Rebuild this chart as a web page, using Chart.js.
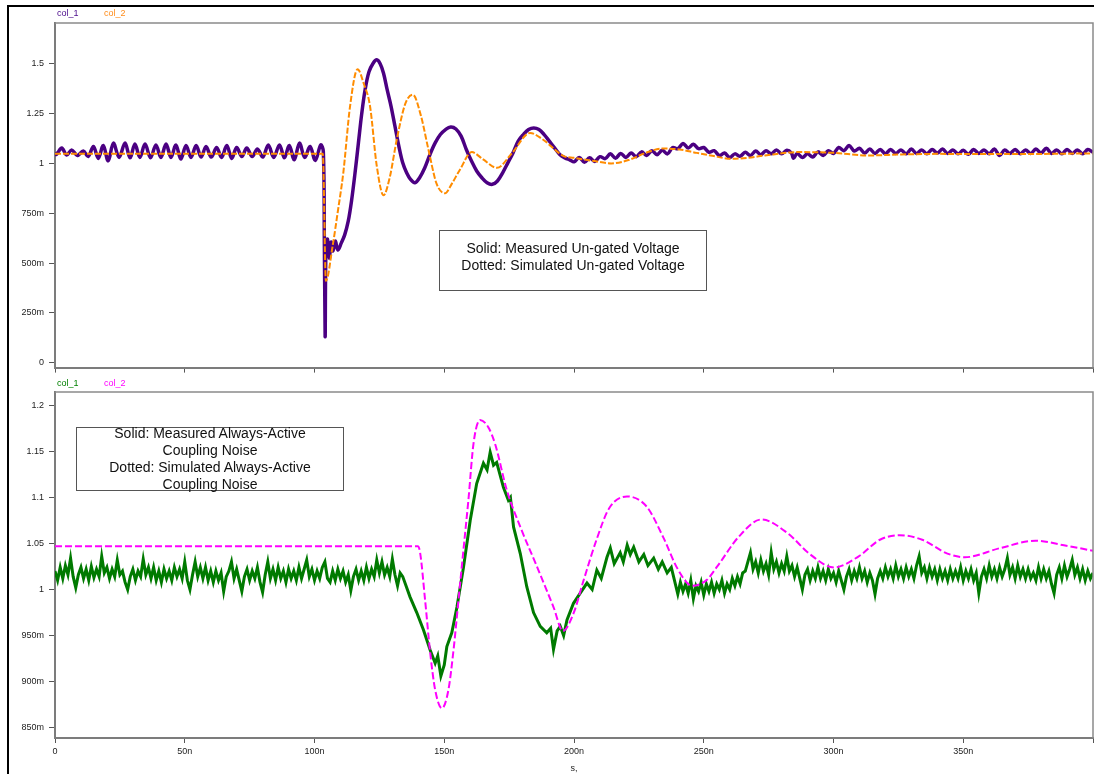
<!DOCTYPE html>
<html>
<head>
<meta charset="utf-8">
<title>Un-gated voltage and coupling noise</title>
<script src="https://cdn.jsdelivr.net/npm/chart.js@4.4.0/dist/chart.umd.min.js"></script>
<style>
  html, body { margin: 0; padding: 0; background: #fff; }
  body { width: 1094px; height: 774px; position: relative; overflow: hidden;
         font-family: "Liberation Sans", Arial, sans-serif; }
  .frame { position: absolute; left: 7px; top: 5px; right: -5px; bottom: -5px;
           border-top: 2px solid #000; border-left: 2px solid #000; }
  canvas { position: absolute; left: 0; }
  #top-chart { top: 0; }
  #bottom-chart { top: 378px; }
  .legend { position: absolute; font-size: 9px; line-height: 10px; white-space: nowrap; }
  .note { position: absolute; border: 1px solid #555; font-size: 14px; line-height: 17px;
          text-align: center; color: #111; box-sizing: border-box; }
</style>
</head>
<body>
<div class="frame"></div>
<canvas id="top-chart" width="1094" height="378"></canvas>
<canvas id="bottom-chart" width="1094" height="396"></canvas>

<div class="legend" style="left:57px; top:8px; color:#4b0b8c">col_1</div>
<div class="legend" style="left:104px; top:8px; color:#ff8c1a">col_2</div>
<div class="legend" style="left:57px; top:378px; color:#008000">col_1</div>
<div class="legend" style="left:104px; top:378px; color:#ff00ff">col_2</div>

<div class="note" style="left:439px; top:230px; width:268px; height:61px; padding-top:9px">
  Solid: Measured Un-gated Voltage<br>Dotted: Simulated Un-gated Voltage
</div>
<div class="note" style="left:76px; top:427px; width:268px; height:64px; padding-top:0">
  <div style="margin-top:-3px">Solid: Measured Always-Active<br>Coupling Noise<br>Dotted: Simulated Always-Active<br>Coupling Noise</div>
</div>

<script>
'use strict';

// ── Axis ticks ────────────────────────────────────────────────────────────────

const X_TICKS = [0, 50, 100, 150, 200, 250, 300, 350, 400];
const X_TICK_LABELS = ['0', '50n', '100n', '150n', '200n', '250n', '300n', '350n', ''];

const TOP_Y_TICKS = [0, 0.25, 0.5, 0.75, 1, 1.25, 1.5];
const TOP_Y_LABELS = ['0', '250m', '500m', '750m', '1', '1.25', '1.5'];

const BOT_Y_TICKS = [0.85, 0.9, 0.95, 1, 1.05, 1.1, 1.15, 1.2];
const BOT_Y_LABELS = ['850m', '900m', '950m', '1', '1.05', '1.1', '1.15', '1.2'];

// ── Series: [time ns, volts] ─────────────────────

const measuredUngated = [
  [0, 1.055], [0.5, 1.045], [2.6, 1.077], [4.5, 1.042], [6.4, 1.068], [8.6, 1.040],
  [10.9, 1.062], [12.8, 1.035], [14.8, 1.085], [16.7, 1.025], [18.6, 1.090], [20.5, 1.013],
  [22.5, 1.102], [24.7, 1.030], [27.0, 1.102], [28.9, 1.028], [30.8, 1.097], [32.7, 1.030],
  [34.7, 1.097], [36.8, 1.028], [38.9, 1.093], [40.8, 1.030], [42.8, 1.097], [44.7, 1.030],
  [46.6, 1.093], [48.5, 1.022], [50.5, 1.090], [52.4, 1.030], [54.4, 1.090], [56.3, 1.032],
  [58.2, 1.085], [60.2, 1.032], [62.3, 1.080], [64.2, 1.030], [66.2, 1.090], [68.1, 1.025],
  [70.0, 1.080], [72.0, 1.035], [73.9, 1.077], [76.0, 1.035], [78.0, 1.073], [80.1, 1.032],
  [82.2, 1.093], [84.3, 1.030], [86.5, 1.093], [88.4, 1.028], [90.3, 1.090], [92.2, 1.018],
  [94.2, 1.102], [96.2, 1.030], [98.3, 1.085], [100.3, 1.015], [102.4, 1.093], [103.4, 1.060],
  [103.8, 0.600], [104.1, 0.130], [104.4, 0.555], [105.0, 0.620], [105.7, 0.525], [106.4, 0.605],
  [107.1, 0.560], [108.0, 0.610], [109.0, 0.565], [110.3, 0.600], [111.6, 0.640], [113.0, 0.710],
  [114.3, 0.815], [115.6, 0.950], [116.9, 1.100], [118.2, 1.250], [119.5, 1.370], [121.0, 1.460],
  [122.6, 1.503], [124.0, 1.520], [125.3, 1.500], [126.6, 1.453], [128.0, 1.370], [129.5, 1.287],
  [131.0, 1.187], [132.5, 1.087], [134.0, 1.003], [135.5, 0.953], [137.0, 0.920], [138.7, 0.903],
  [140.5, 0.928], [142.5, 0.978], [144.5, 1.045], [146.5, 1.103], [148.5, 1.145], [150.5, 1.170],
  [152.5, 1.183], [154.5, 1.173], [156.5, 1.137], [158.5, 1.070], [160.5, 1.012], [162.5, 0.962],
  [164.5, 0.928], [166.5, 0.903], [168.5, 0.895], [170.5, 0.912], [172.5, 0.953], [174.5, 1.003],
  [176.5, 1.053], [178.5, 1.112], [180.5, 1.145], [182.5, 1.170], [184.5, 1.178], [186.5, 1.170],
  [188.5, 1.145], [190.5, 1.112], [192.5, 1.078], [194.5, 1.045], [196.5, 1.028], [198.5, 1.017],
  [200, 1.008], [202, 1.030], [204, 1.006], [206, 1.028], [208, 1.010], [210, 1.034],
  [212, 1.024], [214, 1.048], [216, 1.026], [218, 1.050], [220, 1.030], [222, 1.052],
  [224, 1.034], [226, 1.058], [228, 1.040], [230, 1.064], [232, 1.044], [234, 1.066],
  [236, 1.048], [238, 1.080], [240, 1.074], [242, 1.100], [244, 1.078], [246, 1.096],
  [248, 1.074], [250, 1.080], [252, 1.056], [254, 1.064], [256, 1.040], [258, 1.052],
  [260, 1.030], [262, 1.048], [264, 1.036], [266, 1.056], [268, 1.040], [270, 1.062],
  [272, 1.044], [274, 1.064], [276, 1.048], [278, 1.068], [280, 1.048], [282, 1.066],
  [283.8, 1.052], [284.6, 1.026], [286, 1.050], [288, 1.030], [290, 1.048], [292, 1.032],
  [294, 1.058], [296, 1.040], [298, 1.064], [300, 1.050], [302, 1.080], [304, 1.064],
  [306, 1.090], [308, 1.062], [310, 1.076], [312, 1.052], [314, 1.072], [316, 1.050],
  [318, 1.070], [320, 1.048], [322, 1.070], [324, 1.050], [326, 1.068], [328, 1.048],
  [330, 1.072], [332, 1.050], [334, 1.068], [336, 1.048], [338, 1.070], [340, 1.052],
  [342, 1.072], [344, 1.050], [346, 1.068], [348, 1.048], [350, 1.066], [352, 1.046],
  [354, 1.070], [356, 1.050], [358, 1.068], [360, 1.048], [362, 1.072], [364, 1.040],
  [366, 1.068], [368, 1.050], [370, 1.070], [372, 1.048], [374, 1.068], [376, 1.050],
  [378, 1.072], [380, 1.052], [382, 1.076], [384, 1.050], [386, 1.068], [388, 1.048],
  [390, 1.070], [392, 1.050], [394, 1.068], [396, 1.048], [398, 1.070], [400, 1.056],
];

const simulatedUngated = [
  [0, 1.048], [50, 1.048], [103.2, 1.048], [104.4, 0.410], [107.0, 0.587], [109.0, 0.760],
  [111.1, 0.953], [113.7, 1.287], [116.6, 1.473], [119.0, 1.400], [121.4, 1.287], [124.0, 0.987],
  [126.6, 0.840], [129.0, 0.930], [131.7, 1.120], [135.0, 1.300], [137.9, 1.345], [141.0, 1.240],
  [143.9, 1.070], [147.0, 0.900], [150.3, 0.850], [153.0, 0.900], [156.1, 0.970], [160.6, 1.057],
  [165.0, 1.020], [170.3, 0.978], [176.0, 1.050], [183.1, 1.153], [188.0, 1.120], [196.0, 1.037],
  [200.0, 1.028], [207.8, 1.012], [214.4, 1.000], [221.0, 1.017], [227.6, 1.053], [234.1, 1.075],
  [240.7, 1.070], [247.3, 1.053], [253.9, 1.037], [260.5, 1.023], [267.0, 1.028], [273.6, 1.040],
  [286.8, 1.057], [300.0, 1.053], [313.1, 1.040], [326.3, 1.045], [339.5, 1.048], [365.8, 1.047],
  [400, 1.050],
];

const measuredNoise = [
  [0, 1.020], [1, 1.010], [2, 1.024], [3, 1.012], [4, 1.026], [5, 1.016], [6, 1.034], [7, 1.014],
  [8, 1.002], [9, 1.016], [10, 1.024], [11, 1.012], [12, 1.022], [13, 1.010], [14, 1.025], [15, 1.013],
  [16, 1.022], [17, 1.014], [18, 1.036], [19, 1.018], [20, 1.024], [21, 1.012], [22, 1.022], [23, 1.014],
  [24, 1.032], [25, 1.016], [26, 1.020], [27, 1.008], [28, 1.000], [29, 1.014], [30, 1.022], [31, 1.010],
  [32, 1.020], [33, 1.014], [34, 1.033], [35, 1.016], [36, 1.024], [37, 1.012], [38, 1.024], [39, 1.010],
  [40, 1.020], [41, 1.008], [42, 1.022], [43, 1.012], [44, 1.020], [45, 1.010], [46, 1.024], [47, 1.014],
  [48, 1.022], [49, 1.012], [50, 1.030], [51, 1.010], [52, 1.000], [53, 1.016], [54, 1.030], [55, 1.014],
  [56, 1.024], [57, 1.012], [58, 1.024], [59, 1.010], [60, 1.020], [61, 1.008], [62, 1.020], [63, 1.010],
  [64, 1.018], [65, 0.998], [66, 1.014], [67, 1.020], [68, 1.030], [69, 1.012], [70, 1.022], [71, 1.010],
  [72, 0.998], [73, 1.014], [74, 1.022], [75, 1.010], [76, 1.020], [77, 1.012], [78, 1.024], [79, 1.008],
  [80, 0.997], [81, 1.016], [82, 1.030], [83, 1.012], [84, 1.022], [85, 1.010], [86, 1.024], [87, 1.012],
  [88, 1.020], [89, 1.008], [90, 1.022], [91, 1.012], [92, 1.020], [93, 1.010], [94, 1.024], [95, 1.012],
  [96, 1.022], [97, 1.032], [98, 1.014], [99, 1.022], [100, 1.010], [101, 1.020], [102, 1.012], [103, 1.024],
  [104, 1.030], [105, 1.012], [106, 1.008], [107, 1.020], [108, 1.010], [109, 1.022], [110, 1.012], [111, 1.020],
  [112, 1.008], [113, 1.016], [114, 0.999], [115, 1.014], [116, 1.022], [117, 1.010], [118, 1.020], [119, 1.010],
  [120, 1.024], [121, 1.012], [122, 1.022], [123, 1.014], [124, 1.032], [125, 1.018], [126, 1.030], [127, 1.016],
  [128, 1.024], [129, 1.014], [130, 1.033], [131, 1.016], [132, 1.004], [133, 1.018], [134, 1.014],
  [136.8, 0.992], [139.4, 0.975], [142.0, 0.956], [144.6, 0.934], [146.5, 0.920], [147.5, 0.928],
  [148.7, 0.906], [150.0, 0.918], [151.0, 0.938], [152.9, 0.953], [154.9, 0.981], [157.4, 1.024],
  [160.0, 1.075], [162.5, 1.115], [165.1, 1.137], [166.5, 1.130], [167.7, 1.149], [169.0, 1.135],
  [170.2, 1.138], [172.8, 1.111], [174.7, 1.097], [175.5, 1.100], [176.7, 1.068], [179.3, 1.039],
  [181.8, 1.003], [184.4, 0.975], [187.0, 0.960], [189.5, 0.953], [191.0, 0.958], [192.1, 0.935],
  [193.5, 0.955], [194.7, 0.960], [196.0, 0.950], [197.3, 0.967], [199.8, 0.985], [202.4, 0.996],
  [205.0, 1.007], [207.0, 1.000], [208.8, 1.021], [210.5, 1.012], [212.7, 1.035], [214.0, 1.045],
  [215.5, 1.028], [217.8, 1.040], [219.0, 1.030], [220.5, 1.048], [221.7, 1.038], [223.0, 1.046],
  [225.0, 1.030], [226.9, 1.038], [228.5, 1.026], [230.7, 1.034], [232.5, 1.022], [234.0, 1.030],
  [235.9, 1.018], [237.5, 1.024],
  [240, 0.995], [241, 1.008], [242, 0.998], [243, 1.006], [244, 0.996], [245, 1.010], [246, 0.990], [247, 1.004],
  [248, 0.998], [249, 1.008], [250, 0.994], [251, 1.006], [252, 0.998], [253, 1.008], [254, 0.996], [255, 1.006],
  [256, 1.000], [257, 1.010], [258, 0.996], [259, 1.006], [260, 1.000], [261, 1.012], [262, 1.004], [263, 1.014],
  [264, 1.006], [265, 1.018], [266, 1.020], [267, 1.030], [268, 1.040], [269, 1.022], [270, 1.030], [271, 1.018],
  [272, 1.032], [273, 1.020], [274, 1.028], [275, 1.016], [276, 1.040], [277, 1.022], [278, 1.030], [279, 1.018],
  [280, 1.028], [281, 1.020], [282, 1.036], [283, 1.020], [284, 1.026], [285, 1.014], [286, 1.024], [287, 1.012],
  [288, 1.000], [289, 1.016], [290, 1.022], [291, 1.010], [292, 1.020], [293, 1.012], [294, 1.024], [295, 1.012],
  [296, 1.020], [297, 1.010], [298, 1.022], [299, 1.012], [300, 1.018], [301, 1.008], [302, 1.020], [303, 1.010],
  [304, 1.000], [305, 1.014], [306, 1.022], [307, 1.010], [308, 1.020], [309, 1.012], [310, 1.024], [311, 1.012],
  [312, 1.020], [313, 1.008], [314, 1.018], [315, 1.010], [316, 0.995], [317, 1.012], [318, 1.020], [319, 1.012],
  [320, 1.024], [321, 1.014], [322, 1.022], [323, 1.012], [324, 1.026], [325, 1.014], [326, 1.022], [327, 1.012],
  [328, 1.024], [329, 1.014], [330, 1.022], [331, 1.012], [332, 1.026], [333, 1.036], [334, 1.018], [335, 1.024],
  [336, 1.012], [337, 1.024], [338, 1.014], [339, 1.022], [340, 1.010], [341, 1.022], [342, 1.012], [343, 1.020],
  [344, 1.010], [345, 1.022], [346, 1.012], [347, 1.020], [348, 1.012], [349, 1.024], [350, 1.010], [351, 1.020],
  [352, 1.012], [353, 1.022], [354, 1.010], [355, 1.018], [356, 0.996], [357, 1.014], [358, 1.022], [359, 1.012],
  [360, 1.026], [361, 1.014], [362, 1.022], [363, 1.012], [364, 1.024], [365, 1.014], [366, 1.022], [367, 1.034],
  [368, 1.016], [369, 1.024], [370, 1.012], [371, 1.026], [372, 1.014], [373, 1.022], [374, 1.012], [375, 1.022],
  [376, 1.012], [377, 1.018], [378, 1.010], [379, 1.024], [380, 1.012], [381, 1.022], [382, 1.012], [383, 1.020],
  [384, 1.006], [385, 0.996], [386, 1.016], [387, 1.024], [388, 1.012], [389, 1.026], [390, 1.014], [391, 1.022],
  [392, 1.032], [393, 1.016], [394, 1.024], [395, 1.012], [396, 1.022], [397, 1.010], [398, 1.020], [399, 1.012],
  [400, 1.018],
];

const simulatedNoise = [
  [0, 1.047], [139.8, 1.047], [140.7, 1.040], [142.6, 0.989], [144.6, 0.931], [146.5, 0.891],
  [149.1, 0.871], [151.6, 0.891], [153.6, 0.935], [155.5, 0.989], [157.4, 1.043], [159.3, 1.097],
  [161.3, 1.159], [163.8, 1.184], [167.0, 1.176], [169.6, 1.158], [174.1, 1.108], [179.3, 1.068],
  [185.7, 1.025], [192.1, 0.981], [195.7, 0.955], [199.8, 0.974], [203.7, 1.010], [208.8, 1.055],
  [213.5, 1.088], [220.4, 1.101], [228.0, 1.090], [234.5, 1.056], [240.0, 1.022], [245.6, 1.004],
  [251.0, 1.010], [255.2, 1.025], [263.4, 1.057], [272.2, 1.076], [282.4, 1.061], [290.6, 1.039],
  [300.2, 1.024], [309.7, 1.036], [317.9, 1.054], [325.4, 1.059], [334.2, 1.054], [343.9, 1.039],
  [350.6, 1.035], [364.3, 1.045], [377.9, 1.053], [388.8, 1.048], [400, 1.042],
];

// ── Styling ───────────────────────────────────────────────────────────────────

const FONT = '"Liberation Sans", Arial, sans-serif';
const AXIS_GREY = '#7c7c7c';
const LABEL = '#222';

const PURPLE = '#4b0082';
const ORANGE = '#ff8c00';
const GREEN = '#007a00';
const MAGENTA = '#ff00ff';

const toXY = pts => pts.map(([x, y]) => ({ x, y }));

// gray box round the plot area (top and right edges; axes draw left/bottom)
const plotFrame = {
  id: 'plotFrame',
  afterDraw(chart) {
    const { ctx, chartArea: a } = chart;
    ctx.save();
    ctx.strokeStyle = '#8a8a8a';
    ctx.lineWidth = 1.5;
    ctx.beginPath();
    ctx.moveTo(a.left, a.top);
    ctx.lineTo(a.right, a.top);
    ctx.lineTo(a.right, a.bottom);
    ctx.stroke();
    ctx.restore();
  },
};

// ── Chart factory ────────────────────────────────────────────────────────────

function makeChart(id, datasets, y, opts) {
  return new Chart(document.getElementById(id), {
    type: 'line',
    data: { datasets },
    plugins: [plotFrame],
    options: {
      responsive: false,
      animation: false,
      events: [],
      layout: { padding: { top: opts.padTop, right: 1, left: 0, bottom: 0 } },
      plugins: { legend: { display: false }, tooltip: { enabled: false } },
      elements: { point: { radius: 0 } },
      scales: {
        x: {
          type: 'linear', min: 0, max: 400,
          afterFit(s) {
            s.height = opts.xHeight;
            s.paddingLeft = 0;
            s.paddingRight = 0;
          },
          afterBuildTicks(s) { s.ticks = X_TICKS.map(value => ({ value })); },
          ticks: {
            display: opts.xLabels,
            padding: 3,
            maxRotation: 0,
            color: LABEL,
            font: { family: FONT, size: 9 },
            callback: v => X_TICK_LABELS[X_TICKS.indexOf(v)] ?? '',
          },
          grid: { drawOnChartArea: false, tickLength: 5, tickColor: '#555' },
          border: { display: true, color: AXIS_GREY, width: 2 },
          title: {
            display: opts.xLabels,
            text: 's,',
            color: LABEL,
            font: { family: FONT, size: 9 },
            padding: { top: 0, bottom: 0 },
          },
        },
        y: {
          type: 'linear', min: y.min, max: y.max,
          afterFit(s) { s.width = 55; },
          afterBuildTicks(s) { s.ticks = y.ticks.map(value => ({ value })); },
          ticks: {
            padding: 5,
            color: LABEL,
            font: { family: FONT, size: 9 },
            callback: v => y.labels[y.ticks.indexOf(v)] ?? '',
          },
          grid: { drawOnChartArea: false, tickLength: 6, tickColor: '#555' },
          border: { display: true, color: AXIS_GREY, width: 2 },
        },
      },
    },
  });
}

// ── Top: un-gated voltage ────────────────────────────────────────────────────

makeChart('top-chart', [
  {
    label: 'col_1', data: toXY(measuredUngated), order: 2,
    borderColor: PURPLE, borderWidth: 3.5, tension: 0.35,
  },
  {
    label: 'col_2', data: toXY(simulatedUngated), order: 1,
    borderColor: ORANGE, borderWidth: 2, borderDash: [6, 2], cubicInterpolationMode: 'monotone',
  },
], { min: -0.025, max: 1.705, ticks: TOP_Y_TICKS, labels: TOP_Y_LABELS },
   { padTop: 23, xHeight: 9, xLabels: false });

// ── Bottom: always-active coupling noise ─────────────────────────────────────

makeChart('bottom-chart', [
  {
    label: 'col_1', data: toXY(measuredNoise), order: 2,
    borderColor: GREEN, borderWidth: 3, tension: 0,
  },
  {
    label: 'col_2', data: toXY(simulatedNoise), order: 1,
    borderColor: MAGENTA, borderWidth: 2, borderDash: [7, 3], cubicInterpolationMode: 'monotone',
  },
], { min: 0.8388, max: 1.2144, ticks: BOT_Y_TICKS, labels: BOT_Y_LABELS },
   { padTop: 14, xHeight: 36, xLabels: true });
</script>
</body>
</html>
